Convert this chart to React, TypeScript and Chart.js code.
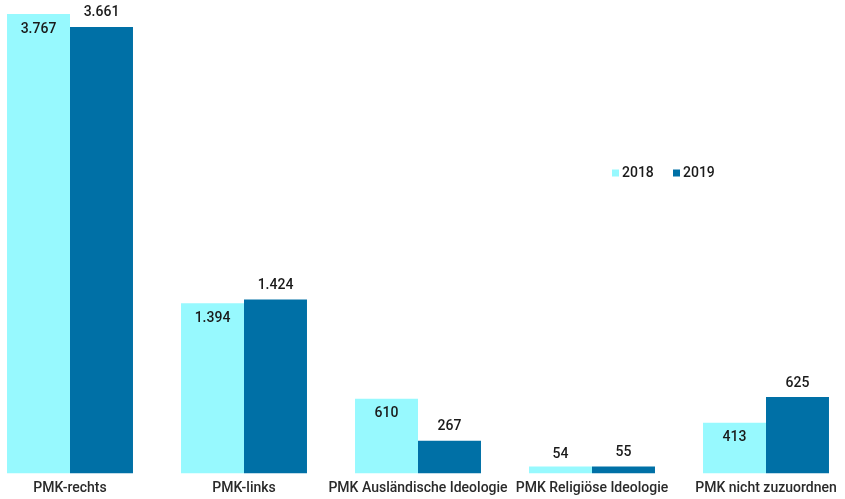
import React, { useEffect, useRef } from "react";
import { Chart, registerables } from "chart.js";

Chart.register(...registerables);

const categories = [
  "PMK-rechts",
  "PMK-links",
  "PMK Ausländische Ideologie",
  "PMK Religiöse Ideologie",
  "PMK nicht zuzuordnen",
];
const seriesNames = ["2018", "2019"];
const values2018 = [3767, 1394, 610, 54, 413];
const values2019 = [3661, 1424, 267, 55, 625];
const colors = ["#97f9fe", "#0070a6"];

const fmt = (v: number) => v.toLocaleString("de-DE");

const dataLabelPlugin = {
  id: "dataLabels",
  afterDatasetsDraw(chart: any) {
    const ctx = chart.ctx;
    ctx.save();
    ctx.font = "500 14px Roboto";
    ctx.fillStyle = "#1a1a1a";
    ctx.textAlign = "center";
    ctx.textBaseline = "middle";
    chart.data.datasets.forEach((ds: any, i: number) => {
      const meta = chart.getDatasetMeta(i);
      meta.data.forEach((el: any, j: number) => {
        const v = ds.data[j];
        const h = el.base - el.y;
        let ty;
        if (i === 0 && h > 28) ty = el.y + 15;
        else ty = el.y - (i === 0 ? 12 : 14);
        ctx.fillText(fmt(v), el.x, ty);
      });
    });
    ctx.restore();
  },
};

const legendPlugin = {
  id: "customLegend",
  afterDraw(chart: any) {
    const ctx = chart.ctx;
    ctx.save();
    ctx.font = "500 14px Roboto";
    ctx.textBaseline = "middle";
    ctx.textAlign = "left";
    let x = 612;
    const y = 173;
    chart.data.datasets.forEach((ds: any) => {
      ctx.fillStyle = ds.backgroundColor;
      ctx.fillRect(x, y - 3.5, 7, 7);
      ctx.fillStyle = "#1a1a1a";
      ctx.fillText(ds.label, x + 10, y);
      x += 61;
    });
    ctx.restore();
  },
};

export default function App() {
  const ref = useRef<HTMLCanvasElement>(null);
  useEffect(() => {
    if (!ref.current) return;
    const chart = new Chart(ref.current, {
      type: "bar",
      data: {
        labels: categories,
        datasets: [
          {
            label: seriesNames[0],
            data: values2018,
            backgroundColor: colors[0],
            clip: false,
          } as any,
          {
            label: seriesNames[1],
            data: values2019,
            backgroundColor: colors[1],
            clip: false,
          } as any,
        ],
      },
      options: {
        animation: false,
        responsive: true,
        maintainAspectRatio: false,
        layout: { padding: { left: 70, right: 79, top: 10, bottom: -5 } },
        datasets: {
          bar: { categoryPercentage: 0.724, barPercentage: 1 },
        },
        plugins: {
          legend: { display: false },
          tooltip: { enabled: false },
        },
        scales: {
          x: {
            offset: false,
            grid: { display: false, drawTicks: false },
            border: { display: false },
            ticks: {
              padding: 7,
              maxRotation: 0,
              autoSkip: false,
              color: "#2a2a2a",
              font: { family: "Roboto", size: 14, weight: "500" },
            },
          },
          y: {
            display: false,
            min: 0,
            max: 3800,
          },
        },
      },
      plugins: [dataLabelPlugin, legendPlugin],
    });
    return () => chart.destroy();
  }, []);
  return (
    <div style={{ position: "fixed", left: 0, top: 0, width: 845, height: 499, background: "#fff" }}>
      <canvas ref={ref} />
    </div>
  );
}
